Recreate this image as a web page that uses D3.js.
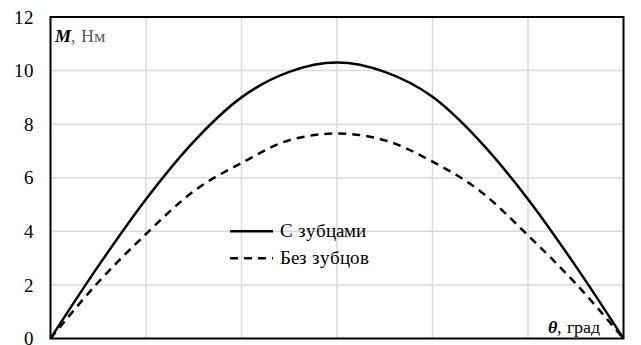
<!DOCTYPE html>
<html>
<head>
<meta charset="utf-8">
<script src="https://cdn.jsdelivr.net/npm/d3@7"></script>
<style>
  @font-face {
    font-family: "ChartSerif";
    src: local("Liberation Serif"), local("LiberationSerif"), local("LiberationSerif-Regular"), local("Times New Roman"), local("DejaVu Serif"), local("DejaVuSerif");
    font-weight: normal;
    font-style: normal;
  }
  @font-face {
    font-family: "ChartSerif";
    src: local("Liberation Serif Bold Italic"), local("LiberationSerif-BoldItalic"), local("DejaVu Serif Bold Italic"), local("DejaVuSerif-BoldItalic");
    font-weight: bold;
    font-style: italic;
  }
  body { margin: 0; background: #fff; }
  svg text { font-family: "ChartSerif", "Liberation Serif", "DejaVu Serif", serif; }
</style>
</head>
<body>
<script>
// Data

var angles = [0, 15, 30, 45, 60, 75, 90, 105, 120, 135, 150, 165, 180];
var withTeeth = [0, 2.7, 5.2, 7.35, 9.0, 9.95, 10.3, 9.95, 9.02, 7.35, 5.2, 2.7, 0];
var noTeeth = [0, 2.1, 3.9, 5.5, 6.55, 7.4, 7.65, 7.4, 6.6, 5.5, 3.85, 2.05, 0];
var xTicks = [0, 30, 60, 90, 120, 150, 180];
var yTicks = [0, 2, 4, 6, 8, 10, 12];
var seriesNames = ["С зубцами", "Без зубцов"];

var w = 641;
var h = 345;
var margin = {left: 50.5, right: 17.5, top: 17, bottom: 6.5};

var svg = d3.select("body")
  .append("svg")
  .attr("width", w)
  .attr("height", h);

var x = d3.scaleLinear().domain([0, 180]).range([margin.left, w - margin.right]);
var y = d3.scaleLinear().domain([0, 12]).range([h - margin.bottom, margin.top]);

/*
----grid----
*/
svg.append("g")
  .selectAll("line.vg")
  .data(xTicks.slice(1, -1))
  .enter()
  .append("line")
  .attr("x1", function(d) { return x(d); })
  .attr("x2", function(d) { return x(d); })
  .attr("y1", y(0))
  .attr("y2", y(12))
  .attr("stroke", "#d9d9d9")
  .attr("stroke-width", 1.5);

svg.append("g")
  .selectAll("line.hg")
  .data(yTicks.slice(1, -1))
  .enter()
  .append("line")
  .attr("x1", x(0))
  .attr("x2", x(180))
  .attr("y1", function(d) { return y(d); })
  .attr("y2", function(d) { return y(d); })
  .attr("stroke", "#d9d9d9")
  .attr("stroke-width", 1.5);

/*
----y axis labels----
*/
var yAxis = d3.axisLeft(y).tickValues(yTicks).tickSize(0).tickPadding(17);
var gy = svg.append("g")
  .attr("transform", "translate(" + x(0) + ",0)")
  .call(yAxis)
  .attr("font-size", 19);
gy.select(".domain").remove();
gy.selectAll("text").attr("fill", "#000");

/*
----curves----
*/
var line = d3.line()
  .x(function(d, i) { return x(angles[i]); })
  .y(function(d) { return y(d); })
  .curve(d3.curveMonotoneX);

svg.append("path")
  .attr("d", line(withTeeth))
  .attr("fill", "none")
  .attr("stroke", "#000")
  .attr("stroke-width", 2.5);

svg.append("path")
  .attr("d", line(noTeeth))
  .attr("fill", "none")
  .attr("stroke", "#000")
  .attr("stroke-width", 2.5)
  .attr("stroke-dasharray", "8,6");

/*
----frame----
*/
svg.append("rect")
  .attr("x", x(0))
  .attr("y", y(12))
  .attr("width", x(180) - x(0))
  .attr("height", y(0) - y(12))
  .attr("fill", "none")
  .attr("stroke", "#000")
  .attr("stroke-width", 2);

/*
----axis titles----
*/
var yt = svg.append("text")
  .attr("x", 55)
  .attr("y", 42)
  .attr("font-size", 18);
yt.append("tspan").attr("font-weight", "bold").attr("font-style", "italic").attr("fill", "#000").text("M");
yt.append("tspan").attr("fill", "#595959").text(", Нм");

var xt = svg.append("text")
  .attr("x", 600)
  .attr("y", 333)
  .attr("text-anchor", "end")
  .attr("font-size", 18);
xt.append("tspan").attr("font-weight", "bold").attr("font-style", "italic").attr("fill", "#000").text("θ");
xt.append("tspan").attr("fill", "#000").text(", град");

/*
----legend----
*/
var legend = svg.append("g").attr("transform", "translate(230," + y(4) + ")");
var items = legend.selectAll("g")
  .data(seriesNames)
  .enter()
  .append("g")
  .attr("transform", function(d, i) { return "translate(0," + i * 27 + ")"; });

items.append("line")
  .attr("x1", 0)
  .attr("x2", 43)
  .attr("stroke", "#000")
  .attr("stroke-width", 2.5)
  .attr("stroke-dasharray", function(d, i) { return i ? "8,6" : null; });

items.append("text")
  .attr("x", 50)
  .attr("y", 6)
  .attr("font-size", 19)
  .attr("fill", "#000")
  .text(function(d) { return d; });
</script>
</body>
</html>
